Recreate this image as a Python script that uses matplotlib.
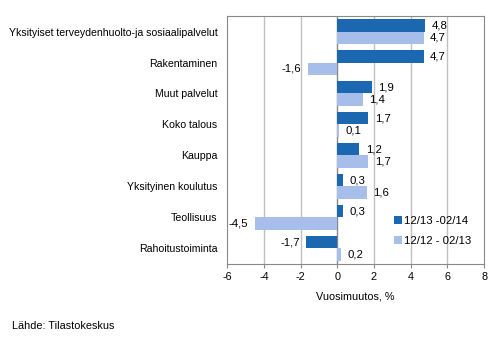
import numpy as np
import matplotlib
matplotlib.use("Agg")
import matplotlib.pyplot as plt

plt.rcParams['font.family'] = ['Liberation Sans', 'DejaVu Sans']

categories = ["Yksityiset terveydenhuolto-ja sosiaalipalvelut", "Rakentaminen",
              "Muut palvelut", "Koko talous", "Kauppa", "Yksityinen koulutus",
              "Teollisuus", "Rahoitustoiminta"]
s_new = [4.8, 4.7, 1.9, 1.7, 1.2, 0.3, 0.3, -1.7]
s_old = [4.7, -1.6, 1.4, 0.1, 1.7, 1.6, -4.5, 0.2]
names = ["12/13 -02/14", "12/12 - 02/13"]
xticks = [-6, -4, -2, 0, 2, 4, 6, 8]

dark = "#1B67B0"
light = "#A7BDEA"

fig = plt.figure(figsize=(4.96, 3.41), dpi=100)
ax = fig.add_axes([0.458, 0.226, 0.518, 0.727])

y = np.arange(len(categories))[::-1]
h = 0.39
ax.barh(y + h / 2, s_new, height=h, color=dark, label=names[0], zorder=3)
ax.barh(y - h / 2, s_old, height=h, color=light, label=names[1], zorder=3)

fs = 7.8
for yy, v in zip(y + h / 2, s_new):
    txt = ("%.1f" % v).replace(".", ",")
    if v >= 0:
        ax.text(v + 0.35, yy, txt, va="center", ha="left", fontsize=fs + 0.4)
    else:
        ax.text(v - 0.35, yy, txt, va="center", ha="right", fontsize=fs + 0.4)
for yy, v in zip(y - h / 2, s_old):
    txt = ("%.1f" % v).replace(".", ",")
    if v >= 0:
        ax.text(v + 0.35, yy, txt, va="center", ha="left", fontsize=fs + 0.4)
    else:
        ax.text(v - 0.35, yy, txt, va="center", ha="right", fontsize=fs + 0.4)

ax.set_xlim(-6, 8)
ax.set_ylim(-0.5, len(categories) - 0.5)
ax.set_xticks(xticks)
ax.set_xticklabels([str(t) for t in xticks], fontsize=fs)
ax.set_yticks(y)
ax.set_yticklabels(categories, fontsize=7.6)
ax.tick_params(axis="y", length=0, pad=7)
ax.tick_params(axis="x", length=3, color="#888888", pad=3)
for t in xticks[1:-1]:
    ax.axvline(t, color="#c0c0c0" if t != 0 else "#888888", lw=1, zorder=1)
for s in ax.spines.values():
    s.set_color("#888888")
ax.set_xlabel("Vuosimuutos, %", fontsize=fs, labelpad=7)

ax.legend(loc="center left", bbox_to_anchor=(0.63, 0.133), frameon=False,
          fontsize=fs + 0.4, handlelength=0.7, handleheight=0.7, handletextpad=0.2,
          labelspacing=0.85, borderaxespad=0.0)

fig.text(12 / 496, 1 - 326 / 341, "Lähde: Tilastokeskus", fontsize=fs, va="center")

fig.savefig("out.png", dpi=100)
